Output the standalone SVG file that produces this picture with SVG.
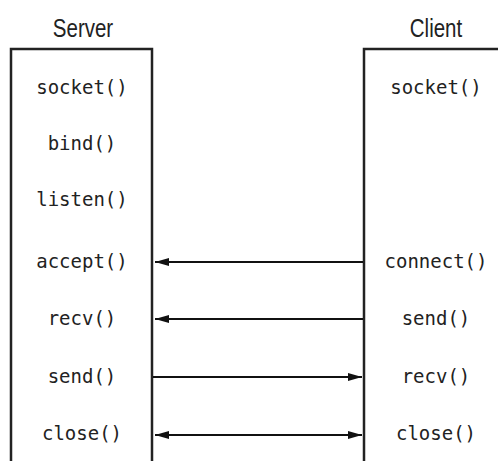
<svg xmlns="http://www.w3.org/2000/svg" width="498" height="461" viewBox="0 0 498 461">
<style>
.title{font-family:"Liberation Sans",Arial,sans-serif;font-size:25px;fill:#222;text-anchor:middle}
.fn{font-family:"DejaVu Sans Mono","Liberation Mono",monospace;font-size:19px;fill:#222;text-anchor:middle}
.box{fill:none;stroke:#222;stroke-width:2.5}
.conn{stroke:#111;stroke-width:2;fill:none}
</style>
<defs>
<marker id="ah" viewBox="0 0 14 8" refX="14" refY="4" markerWidth="14" markerHeight="8" markerUnits="userSpaceOnUse" orient="auto-start-reverse">
<path d="M0,0 L14,4 L0,8 Z" fill="#111"/>
</marker>
</defs>
<rect width="498" height="461" fill="#fff"/>
<g id="server">
<text class="title" transform="translate(83,37) scale(0.82,1)" x="0" y="0">Server</text>
<path class="box" d="M11,465 L11,49 L152,49 L152,465"/>
<text class="fn" x="82" y="94">socket()</text>
<text class="fn" x="82" y="150">bind()</text>
<text class="fn" x="82" y="206">listen()</text>
<text class="fn" x="82" y="268">accept()</text>
<text class="fn" x="82" y="325">recv()</text>
<text class="fn" x="82" y="383">send()</text>
<text class="fn" x="82" y="440">close()</text>
</g>
<g id="client">
<text class="title" transform="translate(436,37) scale(0.82,1)" x="0" y="0">Client</text>
<path class="box" d="M364,465 L364,49 L505,49"/>
<text class="fn" x="436" y="94">socket()</text>
<text class="fn" x="436" y="268">connect()</text>
<text class="fn" x="436" y="325">send()</text>
<text class="fn" x="436" y="383">recv()</text>
<text class="fn" x="436" y="440">close()</text>
</g>
<g id="connectors">
<line class="conn" x1="363" y1="262" x2="155" y2="262" marker-end="url(#ah)"/>
<line class="conn" x1="363" y1="319" x2="155" y2="319" marker-end="url(#ah)"/>
<line class="conn" x1="153" y1="377" x2="362" y2="377" marker-end="url(#ah)"/>
<line class="conn" x1="155" y1="435" x2="362" y2="435" marker-start="url(#ah)" marker-end="url(#ah)"/>
</g>
</svg>
